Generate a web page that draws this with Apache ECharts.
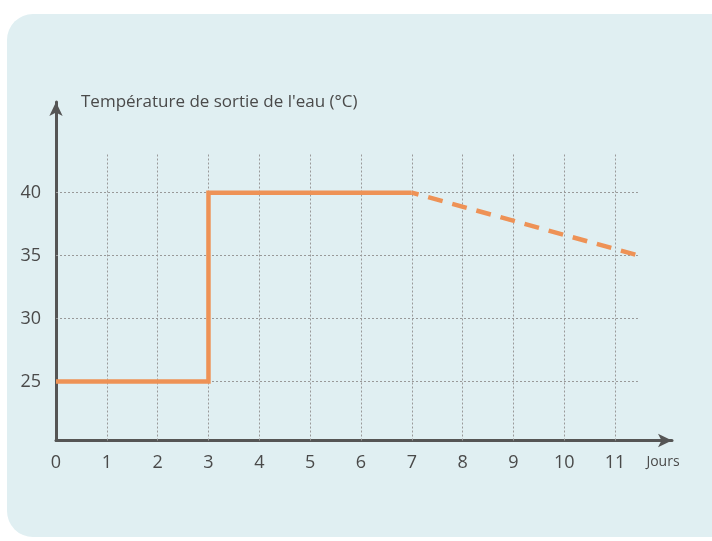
<!DOCTYPE html>
<html>
<head>
<meta charset="utf-8">
<script src="https://cdn.jsdelivr.net/npm/echarts@6/dist/echarts.min.js"></script>
<style>
  html, body { margin: 0; padding: 0; background: #ffffff; }
  #chart { width: 712px; height: 541px; }
</style>
</head>
<body>
<div id="chart"></div>
<script>
// Water outlet temperature over the days: measured (step) and forecast (dashed)
const dayTicks = [0, 1, 2, 3, 4, 5, 6, 7, 8, 9, 10, 11];
const tempTicks = [25, 30, 35, 40];

const measuredDays = [0, 3, 7];
const measuredTemps = [25, 40, 40];

const forecastDays = [7, 11.47];
const forecastTemps = [40, 35];

const gridXValues = [1, 2, 3, 4, 5, 6, 7, 8, 9, 10, 11];
const gridYValues = [25, 30, 35, 40];

const X_MIN = 0, X_MAX = 12.12, X_GRID_END = 11.45;
const Y_MIN = 20.31, Y_MAX = 47.2, Y_GRID_END = 43.13;

const orange = '#EE9256';
const axisColor = '#555555';
const textColor = '#4a4a4a';
const font = 'Open Sans';

const gridLines = [];
gridYValues.forEach(v => gridLines.push([{ coord: [X_MIN, v] }, { coord: [X_GRID_END, v] }]));
gridXValues.forEach(v => gridLines.push([{ coord: [v, Y_MIN] }, { coord: [v, Y_GRID_END] }]));

const chart = echarts.init(document.getElementById('chart'), null, { renderer: 'canvas' });
chart.setOption({
  backgroundColor: '#ffffff',
  animation: false,
  graphic: [{
    type: 'rect',
    left: 7, top: 14, z: -10,
    shape: { width: 730, height: 523, r: 26 },
    style: { fill: '#E0EFF2' }
  }],
  grid: { left: 56, right: 40, top: 102, bottom: 100.5 },
  xAxis: {
    type: 'value',
    min: X_MIN, max: X_MAX,
    name: 'Jours',
    nameLocation: 'end',
    nameGap: -9,
    nameTextStyle: { color: textColor, fontFamily: font, fontSize: 14, align: 'center', verticalAlign: 'top', padding: [15, 0, 0, 0] },
    splitLine: { show: false },
    axisTick: { show: false },
    axisLine: { show: true, symbol: ['none', 'arrow'], symbolSize: [10, 14], lineStyle: { color: axisColor, width: 3 } },
    axisLabel: { customValues: dayTicks, color: textColor, fontFamily: font, fontSize: 18, margin: 13 }
  },
  yAxis: {
    type: 'value',
    min: Y_MIN, max: Y_MAX,
    name: "Température de sortie de l'eau (°C)",
    nameLocation: 'end',
    nameGap: 0,
    nameTextStyle: { color: textColor, fontFamily: font, fontSize: 17, align: 'left', verticalAlign: 'middle', padding: [2, 0, 0, 25] },
    splitLine: { show: false },
    axisTick: { show: false },
    axisLine: { show: true, symbol: ['none', 'arrow'], symbolSize: [10, 14], lineStyle: { color: axisColor, width: 3 } },
    axisLabel: { customValues: tempTicks, color: textColor, fontFamily: font, fontSize: 18, margin: 15 }
  },
  series: [
    {
      name: 'grille',
      type: 'line',
      data: [],
      silent: true,
      markLine: {
        silent: true,
        symbol: ['none', 'none'],
        label: { show: false },
        lineStyle: { color: '#999999', type: [2, 2], width: 1 },
        data: gridLines,
        z: 1
      }
    },
    {
      name: 'mesure',
      type: 'line',
      step: 'end',
      data: measuredDays.map((d, i) => [d, measuredTemps[i]]),
      symbol: 'none',
      lineStyle: { color: orange, width: 4.5, cap: 'butt', join: 'miter' },
      z: 3
    },
    {
      name: 'prévision',
      type: 'line',
      data: forecastDays.map((d, i) => [d, forecastTemps[i]]),
      symbol: 'none',
      lineStyle: { color: orange, width: 4.5, type: [15, 10], dashOffset: 8, cap: 'butt' },
      z: 3
    }
  ]
});
</script>
</body>
</html>
